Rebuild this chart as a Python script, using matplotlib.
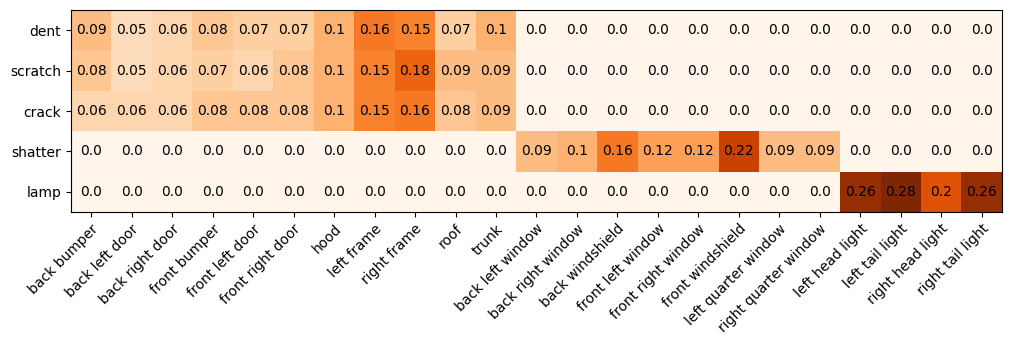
import numpy as np
import matplotlib
matplotlib.use("Agg")
import matplotlib.pyplot as plt

damage_types = ["dent", "scratch", "crack", "shatter", "lamp"]
parts = ["back bumper", "back left door", "back right door", "front bumper",
         "front left door", "front right door", "hood", "left frame",
         "right frame", "roof", "trunk", "back left window",
         "back right window", "back windshield", "front left window",
         "front right window", "front windshield", "left quarter window",
         "right quarter window", "left head light", "left tail light",
         "right head light", "right tail light"]

dent    = [0.09, 0.05, 0.06, 0.08, 0.07, 0.07, 0.1, 0.16, 0.15, 0.07, 0.1,
           0.0, 0.0, 0.0, 0.0, 0.0, 0.0, 0.0, 0.0, 0.0, 0.0, 0.0, 0.0]
scratch = [0.08, 0.05, 0.06, 0.07, 0.06, 0.08, 0.1, 0.15, 0.18, 0.09, 0.09,
           0.0, 0.0, 0.0, 0.0, 0.0, 0.0, 0.0, 0.0, 0.0, 0.0, 0.0, 0.0]
crack   = [0.06, 0.06, 0.06, 0.08, 0.08, 0.08, 0.1, 0.15, 0.16, 0.08, 0.09,
           0.0, 0.0, 0.0, 0.0, 0.0, 0.0, 0.0, 0.0, 0.0, 0.0, 0.0, 0.0]
shatter = [0.0, 0.0, 0.0, 0.0, 0.0, 0.0, 0.0, 0.0, 0.0, 0.0, 0.0,
           0.09, 0.1, 0.16, 0.12, 0.12, 0.22, 0.09, 0.09, 0.0, 0.0, 0.0, 0.0]
lamp    = [0.0, 0.0, 0.0, 0.0, 0.0, 0.0, 0.0, 0.0, 0.0, 0.0, 0.0,
           0.0, 0.0, 0.0, 0.0, 0.0, 0.0, 0.0, 0.0, 0.26, 0.28, 0.2, 0.26]

data = np.array([dent, scratch, crack, shatter, lamp])

fig = plt.figure(figsize=(10.1, 3.45), dpi=100)
ax = fig.add_axes([0.0703, 0.3855, 0.9217, 0.5855])
ax.imshow(data, cmap="Oranges", aspect="auto", vmin=0, vmax=data.max())

ax.set_xticks(np.arange(len(parts)))
ax.set_xticklabels(parts, rotation=45, ha="right", rotation_mode="anchor")
ax.set_yticks(np.arange(len(damage_types)))
ax.set_yticklabels(damage_types)

for i in range(data.shape[0]):
    for j in range(data.shape[1]):
        ax.text(j, i, str(round(float(data[i, j]), 2)), ha="center", va="center",
                color="black", fontsize=10)

fig.savefig("out.png", dpi=100)
